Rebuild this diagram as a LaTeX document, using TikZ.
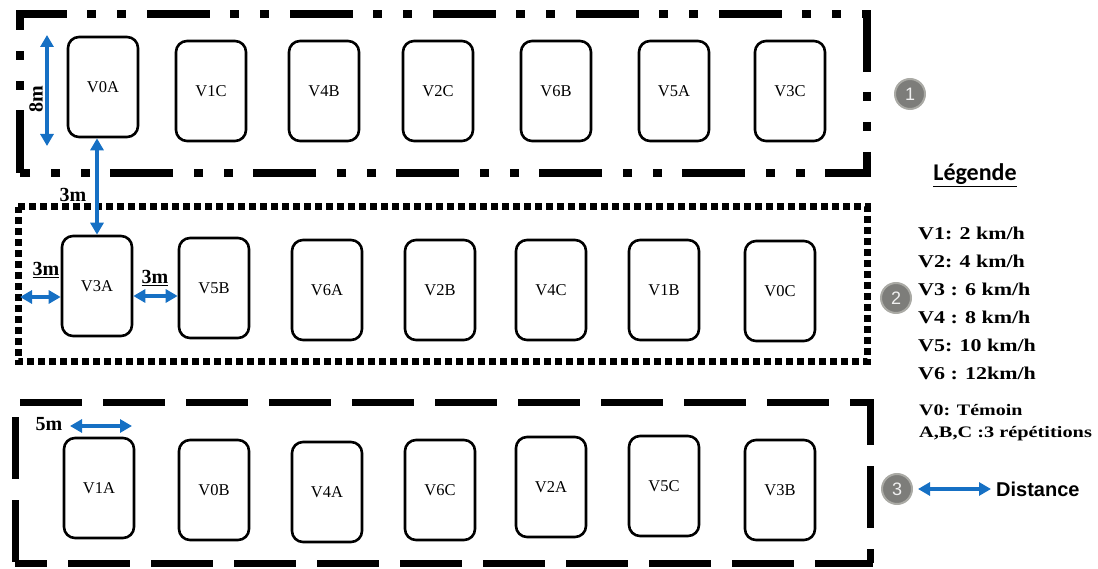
\documentclass[tikz,border=0pt]{standalone}
\usepackage{fontspec}
\setmainfont{Liberation Serif}
\newfontfamily\sansf{Liberation Sans}
\newfontfamily\carl{Carlito}
\usetikzlibrary{arrows.meta}
\definecolor{arrowblue}{RGB}{22,112,196}
\definecolor{circfill}{RGB}{125,125,122}
\definecolor{circedge}{RGB}{170,170,165}
\begin{document}
\begin{tikzpicture}[x=1pt,y=-1pt,
 plot/.style={draw, line width=2.6pt, rounded corners=11pt, minimum width=70pt, minimum height=100pt, inner sep=0pt, font=\fontsize{16.5}{16.5}\selectfont},
 dist/.style={arrowblue, line width=3.5pt, {Triangle[length=12pt,width=13pt]}-{Triangle[length=12pt,width=13pt]}},
 dlab/.style={font=\bfseries\fontsize{20}{20}\selectfont, inner sep=0pt},
 zone/.style={circle, fill=circfill, draw=circedge, line width=2pt, minimum size=30pt, inner sep=0pt, text=white!88!gray, font=\sansf\fontsize{18}{18}\selectfont},
 leg/.style={anchor=west, inner sep=0pt, font=\bfseries\fontsize{18}{18}\selectfont},
 legs/.style={anchor=west, inner sep=0pt, font=\bfseries\fontsize{16}{16}\selectfont},
 box1/.style={line width=8pt, dash pattern=on 63pt off 20pt on 9pt off 21pt on 9pt off 21pt},
 box2/.style={line width=7pt, dash pattern=on 7pt off 4pt},
 box3/.style={line width=7pt, dash pattern=on 62pt off 21pt}]
\useasboundingbox (0,0) rectangle (1098,569);

% zones
\draw[box1] (20,173) -- (20,14) -- (867,14) -- (867,173) -- cycle;
\draw[box2] (18,207) -- (867,207) -- (867,362) -- (18,362) -- cycle;
\draw[box3, dash phase=78pt] (15,402) -- (870,402);
\draw[box3, dash phase=16pt] (870,399) -- (870,563);
\draw[box3, dash phase=68pt] (15,402) -- (15,566);
\draw[box3, dash phase=30pt] (15,563) -- (873,563);

% row 1
\node[plot] (V0A) at (103,87) {V0A};
\node[plot] (V1C) at (211,91) {V1C};
\node[plot] (V4B) at (324,91) {V4B};
\node[plot] (V2C) at (438,91) {V2C};
\node[plot] (V6B) at (556,91) {V6B};
\node[plot] (V5A) at (674,91) {V5A};
\node[plot] (V3C) at (790,91) {V3C};
% row 2
\node[plot] (V3A) at (97,286) {V3A};
\node[plot] (V5B) at (214,288) {V5B};
\node[plot] (V6A) at (327,290) {V6A};
\node[plot] (V2B) at (440,290) {V2B};
\node[plot] (V4C) at (551,290) {V4C};
\node[plot] (V1B) at (664,290) {V1B};
\node[plot] (V0C) at (780,291) {V0C};
% row 3
\node[plot] (V1A) at (99,488) {V1A};
\node[plot] (V0B) at (214,490) {V0B};
\node[plot] (V4A) at (327,492) {V4A};
\node[plot] (V6C) at (440,490) {V6C};
\node[plot] (V2A) at (551,487) {V2A};
\node[plot] (V5C) at (664,486) {V5C};
\node[plot] (V3B) at (780,490) {V3B};

% distance arrows
\coordinate (e8a) at (47,35);
\coordinate (e8b) at (47,146);
\draw[dist] (e8a) -- (e8b);
\node[dlab, rotate=90] (l8) at (36,99) {8m};

\draw[dist] (V3A.north |- V0A.south) -- (V3A.north);
\node[dlab] (l3a) at (73,195) {3m};

\coordinate (b2l) at (20,297);
\draw[dist] (b2l) -- (b2l -| V3A.west);
\node[dlab] (l3b) at (46,270) {\underline{3m}};

\coordinate (mid) at (0,296);
\draw[dist] (V3A.east |- mid) -- (V5B.west |- mid);
\node[dlab] (l3c) at (155,278) {\underline{3m}};

\coordinate (e5a) at (70,426);
\coordinate (e5b) at (132,426);
\draw[dist] (e5a) -- (e5b);
\node[dlab] (l5) at (49,424) {5m};

% zone numbers
\node[zone] (c1) at (910,94) {1};
\node[zone] (c2) at (896,298) {2};
\node[zone] (c3) at (897,489) {3};

% legend
\node[font=\carl\bfseries\fontsize{24}{24}\selectfont, inner sep=0pt] (leg) at (975,175) {\underline{Légende}};
\node[leg] (lv1) at (918,233) {\scalebox{1.22}[1]{V1: 2 km/h}};
\node[leg] (lv2) at (918,261) {\scalebox{1.22}[1]{V2: 4 km/h}};
\node[leg] (lv3) at (918,289) {\scalebox{1.22}[1]{V3 : 6 km/h}};
\node[leg] (lv4) at (918,317) {\scalebox{1.22}[1]{V4 : 8 km/h}};
\node[leg] (lv5) at (918,345) {\scalebox{1.22}[1]{V5: 10 km/h}};
\node[leg] (lv6) at (918,373) {\scalebox{1.22}[1]{V6 : 12km/h}};
\node[legs] (lv0) at (919,410) {\scalebox{1.25}[1]{V0: Témoin}};
\node[legs] (labc) at (919,434) {\scalebox{1.27}[1]{A,B,C :3 répétitions}};

\node[anchor=west, inner sep=0pt, font=\sansf\bfseries\fontsize{20}{20}\selectfont] (dn) at (996,489) {Distance};
\draw[dist] (c3.east) ++(5,0) coordinate (la) -- ([xshift=-5pt]dn.west);
\end{tikzpicture}
\end{document}
